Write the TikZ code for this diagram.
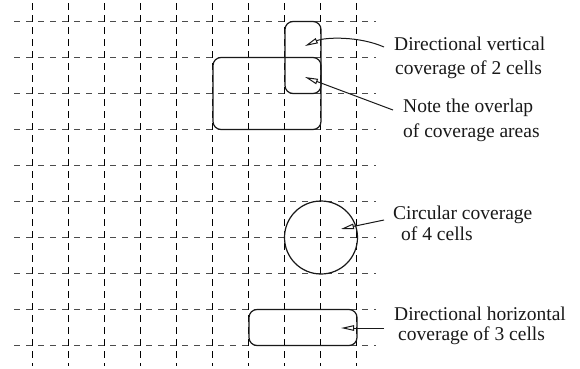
\documentclass[tikz,border=0pt]{standalone}
\usepackage{fontspec}
\setmainfont{Liberation Serif}
\usetikzlibrary{arrows.meta}
\begin{document}
\begin{tikzpicture}[x=1pt,y=-1pt,
 vgrid/.style={draw=black, line width=1pt, dash pattern=on 7pt off 5pt},
 hgrid/.style={draw=black!70, line width=1.1pt, dash pattern=on 6pt off 6pt},
 cover/.style={draw=black!90, line width=1.2pt, rounded corners=8pt, rectangle, inner sep=0pt},
 covcirc/.style={draw=black!90, line width=1.2pt, circle, inner sep=0pt, minimum size=73pt},
 lbl/.style={anchor=base west, inner sep=0pt, font=\fontsize{19.5}{24}\selectfont, text=black!90},
 arr/.style={draw=black!90, line width=1pt, -{Triangle[open, length=13pt, width=5.5pt]}}]
\useasboundingbox[fill=white] (0,0) rectangle (580,368);
\foreach \i in {0,...,9} {
  \draw[hgrid] (14, 21.5+36*\i) -- (376, 21.5+36*\i);
}
\foreach \i in {0,...,9} {
  \draw[vgrid] (32.5+36*\i, 3) -- (32.5+36*\i, 366);
}
\node[cover, minimum width=108pt, minimum height=72pt] (big) at (267,93.5) {};
\node[cover, minimum width=36pt, minimum height=72pt] (vert) at (303,57.5) {};
\node[covcirc] (circ) at (321,237.5) {};
\node[cover, minimum width=108pt, minimum height=36pt] (horiz) at (303,327.5) {};
\node[lbl] (t1a) at (394,50) {Directional vertical};
\node[lbl] (t1b) at (395,74) {coverage of 2 cells};
\node[lbl] (t2a) at (403,112) {Note the overlap};
\node[lbl] (t2b) at (403,137) {of coverage areas};
\node[lbl] (t3a) at (393,219) {Circular coverage};
\node[lbl] (t3b) at (401,240) {of 4 cells};
\node[lbl] (t4a) at (394,320) {Directional horizontal};
\node[lbl] (t4b) at (398,340) {coverage of 3 cells};
\coordinate (e1) at (305,46);
\coordinate (e2) at (305,77);
\coordinate (e3) at (341,229);
\coordinate (e4) at (341,328);
\draw[arr] ([xshift=-10pt,yshift=3pt]t1a.base west) .. controls +(-25,-11) and +(20,-9) .. (e1);
\draw[arr] ([xshift=-10pt,yshift=2pt]t2a.base west) -- (e2);
\draw[arr] ([xshift=-9pt,yshift=-1pt]t3a.base west) -- (e3);
\draw[arr] ([xshift=-10pt,yshift=-8pt]t4a.base west) -- (e4);
\end{tikzpicture}
\end{document}
